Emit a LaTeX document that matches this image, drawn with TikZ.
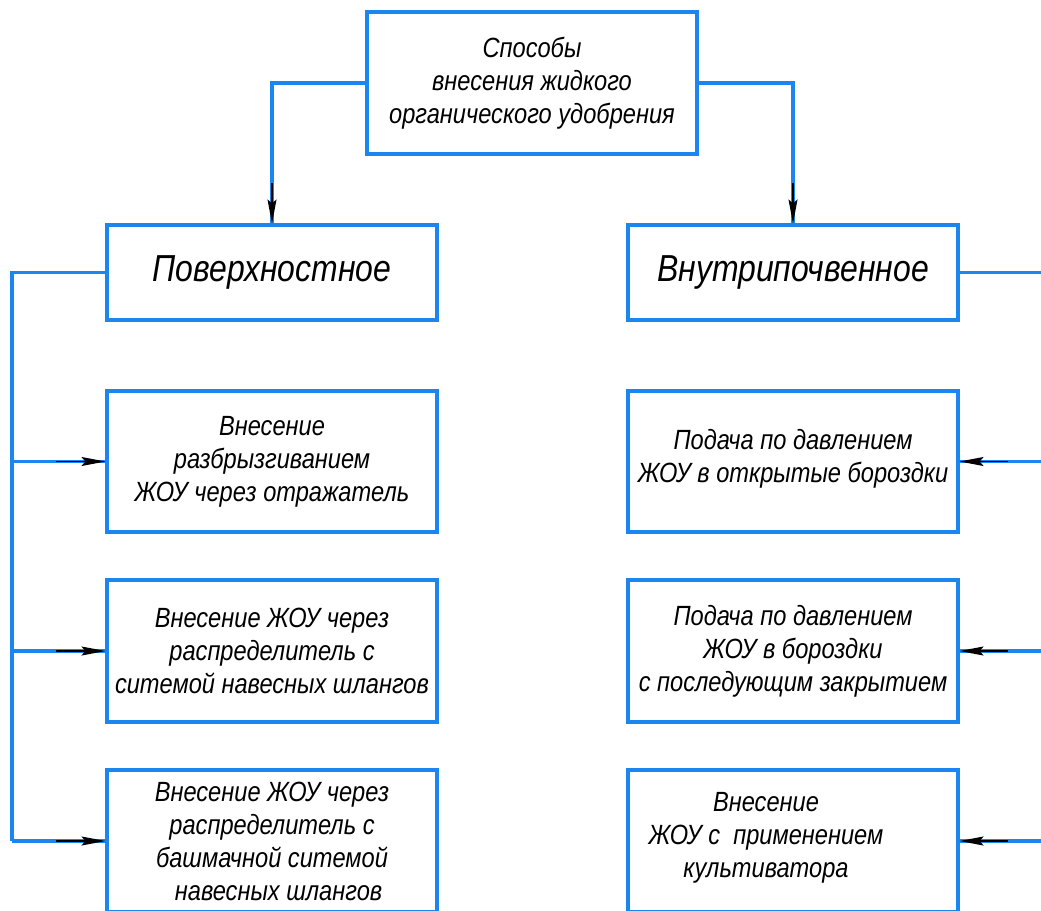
\documentclass[tikz,border=0pt]{standalone}
\usepackage{fontspec}
\setmainfont{Liberation Sans}[FakeStretch=0.85]
\usetikzlibrary{arrows.meta}
\definecolor{lineblue}{RGB}{28,134,240}
\tikzset{
  box/.style={draw=lineblue, line width=3.1pt, minimum width=330pt, inner sep=0pt,
    align=center, font=\itshape\fontsize{27.8}{33}\selectfont, text=black},
  bigbox/.style={box, minimum height=95pt, font=\itshape\fontsize{37.6}{40}\selectfont},
  conn/.style={draw=lineblue, line width=3.1pt},
  tip/.style={draw=black, line width=1.6pt, -{Stealth[length=24pt,width=9pt,inset=4pt]}},
  txt/.style={align=center, inner sep=0pt, font=\itshape\fontsize{27.8}{33}\selectfont}
}
\begin{document}
\begin{tikzpicture}[x=1pt,y=-1pt]
\useasboundingbox (0,0) rectangle (1041,910);
\clip (0,0) rectangle (1041,910);
\fill[white] (0,0) rectangle (1041,910);

\node[box, minimum height=142pt] (top) at (532,83) {Способы\\внесения жидкого\\органического удобрения};
\node[bigbox] (pov) at (272,272.5) {Поверхностное};
\node[bigbox] (vnu) at (793,272.5) {Внутрипочвенное};

\node[box, minimum height=141pt] (l1) at (272,461.5) {Внесение\\разбрызгиванием\\ЖОУ через отражатель};
\node[box, minimum height=142pt] (l2) at (272,651) {Внесение ЖОУ через\\распределитель с\\ситемой навесных шлангов};
\node[box, minimum height=142pt] (l3) at (272,841) {Внесение ЖОУ через\\распределитель с\\башмачной ситемой\\\ \ навесных шлангов};

\node[box, minimum height=141pt, text depth=12pt] (r1) at (793,461.5) {Подача по давлением\\ЖОУ в открытые бороздки};
\node[box, minimum height=142pt] (r2) at (793,651) {Подача по давлением\\ЖОУ в бороздки\\с последующим закрытием};
\node[box, minimum height=142pt] (r3) at (793,841) {};
\node[txt] (r3t) at (766,838) {Внесение\\ЖОУ с\ \ применением\\культиватора};

% top connectors
\draw[conn] (top.west) -| (pov.north);
\draw[conn] (top.east) -| (vnu.north);
\draw[tip] ([yshift=40pt]pov.north) -- (pov.north);
\draw[tip] ([yshift=40pt]vnu.north) -- (vnu.north);

% left trunk
\coordinate (L0) at (12,272.5);
\coordinate (L3) at (12,841);
\draw[conn] (pov.west) -- (L0) -- (L3);
\foreach \b in {l1,l2,l3}{
  \draw[conn] (L0 |- \b.west) -- (\b.west);
  \draw[tip] ([xshift=-49pt]\b.west) -- (\b.west);
}

% right trunk (beyond the edge)
\coordinate (R0) at (1070,272.5);
\coordinate (R3) at (1070,841);
\draw[conn] (vnu.east) -- (R0) -- (R3);
\foreach \b in {r1,r2,r3}{
  \draw[conn] (R0 |- \b.east) -- (\b.east);
  \draw[tip] ([xshift=48pt]\b.east) -- (\b.east);
}
\end{tikzpicture}
\end{document}
